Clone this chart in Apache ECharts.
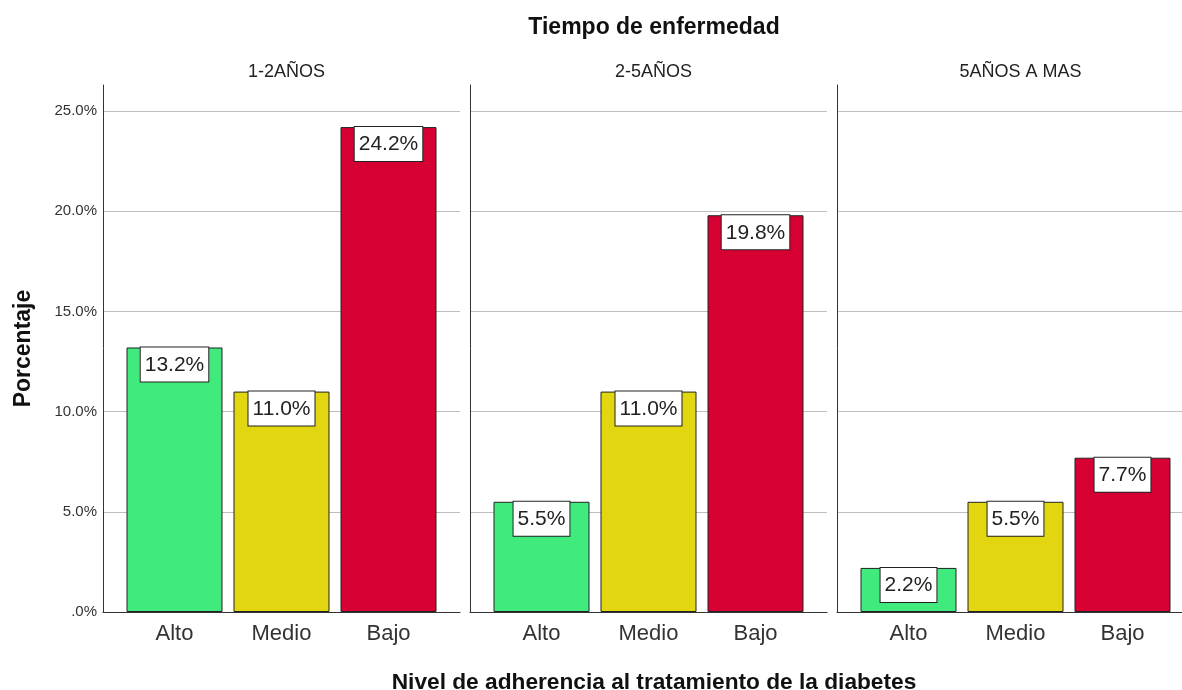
<!DOCTYPE html>
<html>
<head>
<meta charset="utf-8">
<script src="https://cdn.jsdelivr.net/npm/echarts@6/dist/echarts.min.js"></script>
<style>
html,body{margin:0;padding:0;background:#fff;}
#chart{width:1182px;height:690px;}
</style>
</head>
<body>
<div id="chart"></div>
<script>
// ---- data ----
const mainTitle = 'Tiempo de enfermedad';
const xTitle = 'Nivel de adherencia al tratamiento de la diabetes';
const yTitle = 'Porcentaje';
const panels = ['1-2AÑOS', '2-5AÑOS', '5AÑOS A MAS'];
const categories = ['Alto', 'Medio', 'Bajo'];
const panelValues = [
  [13.2, 11.0, 24.2],
  [5.5, 11.0, 19.8],
  [2.2, 5.5, 7.7]
];
const barColors = ['#41EA7C', '#E1D60F', '#D60032'];
const yMin = 0, yMax = 25, yInterval = 5;
const yTopExtent = 26.3;

// ---- layout ----
const FONT = '"Liberation Sans", Arial, Helvetica, sans-serif';
const frameLeft0 = 103, panelStep = 367, frameWidth = 357;
const barInset = 18, barGridWidth = 321;
const bottom = 78, frameTop = 111, lineTop = 85;

const grid = [], xAxis = [], yAxis = [], series = [], title = [];

title.push({
  text: mainTitle, left: 649, top: 11, textAlign: 'center',
  textStyle: {fontFamily: FONT, fontSize: 23, fontWeight: 'bold', color: '#111'}
});
title.push({
  text: xTitle, left: 649, top: 666, textAlign: 'center',
  textStyle: {fontFamily: FONT, fontSize: 22.7, fontWeight: 'bold', color: '#111'}
});

panels.forEach((pname, p) => {
  const fl = frameLeft0 + panelStep * p;
  grid.push({left: fl, width: frameWidth, top: frameTop, bottom: bottom, containLabel: false});
  const fi = grid.length - 1;
  xAxis.push({
    gridIndex: fi, type: 'value', min: 0, max: 1,
    axisLine: {show: true, onZero: false, lineStyle: {color: '#333', width: 1}},
    axisTick: {show: false}, axisLabel: {show: false}, splitLine: {show: false}
  });
  yAxis.push({
    gridIndex: fi, type: 'value', min: yMin, max: yMax, interval: yInterval,
    axisLine: {show: false}, axisTick: {show: false},
    axisLabel: {
      show: p === 0, margin: 6, fontFamily: FONT, fontSize: 15, color: '#333',
      formatter: v => (v === 0 ? '.0%' : v.toFixed(1) + '%')
    },
    splitLine: {show: true, lineStyle: {color: '#bfbfbf', width: 1}}
  });
  grid.push({left: fl + barInset, width: barGridWidth, top: lineTop, bottom: bottom, containLabel: false});
  const bi = grid.length - 1;
  xAxis.push({
    gridIndex: bi, type: 'category', data: categories,
    axisLine: {show: false}, axisTick: {show: false},
    axisLabel: {margin: 11, fontFamily: FONT, fontSize: 22, color: '#333'}
  });
  yAxis.push({
    gridIndex: bi, type: 'value', min: yMin, max: yTopExtent, offset: barInset,
    axisLine: {show: true, lineStyle: {color: '#333', width: 1}},
    axisTick: {show: false}, axisLabel: {show: false}, splitLine: {show: false},
    name: p === 0 ? yTitle : '', nameLocation: 'middle', nameRotate: 90, nameGap: 68,
    nameTextStyle: {fontFamily: FONT, fontSize: 23, fontWeight: 'bold', color: '#111'}
  });
  series.push({
    type: 'bar', xAxisIndex: bi, yAxisIndex: bi, barWidth: 96,
    data: panelValues[p].map((v, i) => ({value: v, itemStyle: {color: barColors[i]}})),
    itemStyle: {borderColor: '#222', borderWidth: 1},
    label: {
      show: true, position: 'insideTop', distance: 0,
      formatter: d => d.value.toFixed(1) + '%',
      fontFamily: FONT, fontSize: 21, color: '#222',
      backgroundColor: '#fff', borderColor: '#222', borderWidth: 1,
      padding: [7, 4, 6, 4]
    },
    emphasis: {disabled: true}, animation: false
  });
  title.push({
    text: pname, left: fl + frameWidth / 2, top: 58, textAlign: 'center',
    textStyle: {fontFamily: FONT, fontSize: 18, fontWeight: 'normal', color: '#222'}
  });
});

const chart = echarts.init(document.getElementById('chart'), null, {renderer: 'canvas'});
chart.setOption({
  backgroundColor: '#fff', animation: false,
  title, grid, xAxis, yAxis, series
});
</script>
</body>
</html>
